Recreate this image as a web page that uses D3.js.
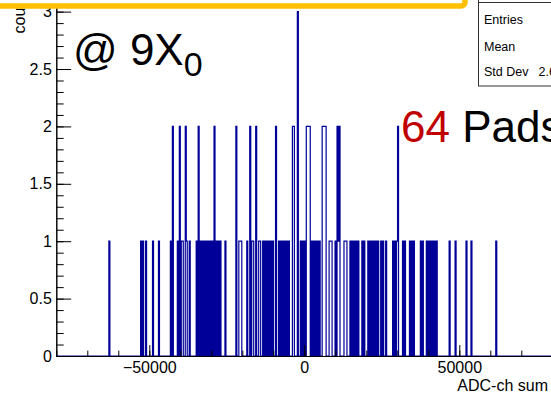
<!DOCTYPE html>
<html>
<head>
<meta charset="utf-8">
<script src="https://cdn.jsdelivr.net/npm/d3@7"></script>
<style>
  html, body { margin: 0; padding: 0; background: #fff; overflow: hidden; }
  text { font-family: "Liberation Sans", Arial, Helvetica, sans-serif; }
</style>
</head>
<body>
<svg id="chart" width="551" height="394"></svg>
<script>
// Summed ADC value of every recorded event (a value repeated n times = n events in that bin)
const adcSum = [
  -63000,
  -52680, -52030, -51060, -48810, -47030,
  -43000, -42290, -42290, -40900, -40260, -40260, -39610, -39130, -38320, -38320, -37770, -36870,
  -34770, -34190, -34190, -33550, -32900, -32260, -31610, -30970, -30320, -29680, -29030, -29030,
  -28390, -27740, -27100,
  -25580, -22030, -22030, -20970, -20650, -20320,
  -18320, -17520, -17520, -16870, -16550, -15580, -15580, -14450, -14130,
  -13160, -12520, -11870, -11230, -10580, -10000, -9230, -9230,
  -8160, -7520, -6870, -6230, -5580, -4940, -3580, -3580, -3260, -3260, -2100, -2100, -2100,
  -1060, -420, 230, 940, 940, 1260, 1260, 1580, 1580, 1900, 1900,
  2480, 3130, 3770, 4420, 5060, 5770, 5770, 6100, 6100, 6420, 6420, 6740, 6740,
  8290, 8610, 8940, 10060, 10610, 10610, 10940, 11260, 11260,
  12810, 13130, 13450, 14900, 15550, 16190, 16840, 17480, 18610, 19260,
  20710, 21350, 22000, 22650, 23290, 23940, 24900, 25550, 26520,
  28610, 29260, 29900, 30390, 30390, 31840, 32480, 33940, 34580, 35230,
  37480, 38130, 39580, 40230, 40870, 41520, 42160, 42650,
  47000, 48770, 52160, 54000, 61840
];

// Histogram binning and axis ticks
const xRange = [-80000, 80000];
const binWidth = 320;
const xMajorTicks = [-50000, 0, 50000];
const xMinorTicks = d3.range(-80000, 80001, 10000);
const yMajorTicks = [0, 0.5, 1, 1.5, 2, 2.5, 3];
const yMinorTicks = d3.range(0, 3.15, 0.1);
const yMax = 3.15;

const xTitle = "ADC-ch sum";
const yTitle = "counts";

const svg = d3.select("#chart");

const frame = { left: 56.3, right: 552.3, top: -5.6, bottom: 356 };
const x = d3.scaleLinear().domain(xRange).range([frame.left, frame.right]);
const y = d3.scaleLinear().domain([0, yMax]).range([frame.bottom, frame.top]);

// ---- histogram ----
const bins = d3.bin()
  .domain(xRange)
  .thresholds(d3.range(xRange[0] + binWidth, xRange[1], binWidth))(adcSum);

const pts = [[bins[0].x0, 0]];
bins.forEach(b => { pts.push([b.x0, b.length]); pts.push([b.x1, b.length]); });
pts.push([bins[bins.length - 1].x1, 0]);

svg.append("clipPath").attr("id", "frameClip")
  .append("rect")
  .attr("x", frame.left).attr("y", frame.top - 20)
  .attr("width", frame.right - frame.left).attr("height", frame.bottom - frame.top + 21);

svg.append("path")
  .attr("clip-path", "url(#frameClip)")
  .attr("d", d3.line().x(d => x(d[0])).y(d => y(d[1]))(pts))
  .attr("fill", "none")
  .attr("stroke", "#000099")
  .attr("stroke-width", 1.2);

// ---- axes (ROOT style: ticks inside the frame) ----
const font = 16;
const yAxisMinor = d3.axisLeft(y).tickValues(yMinorTicks).tickSizeInner(-7.4).tickSizeOuter(0).tickFormat("");
const yAxisMajor = d3.axisLeft(y).tickValues(yMajorTicks).tickSizeInner(-14.9).tickSizeOuter(0)
  .tickPadding(4.5).tickFormat(d => String(d));
const xAxisMinor = d3.axisBottom(x).tickValues(xMinorTicks).tickSizeInner(-5.4).tickSizeOuter(0).tickFormat("");
const xAxisMajor = d3.axisBottom(x).tickValues(xMajorTicks).tickSizeInner(-10.9).tickSizeOuter(0)
  .tickPadding(6).tickFormat(d3.format("d"));

function styleAxis(g) {
  g.select(".domain").attr("stroke", "#000").attr("stroke-width", 1);
  g.selectAll(".tick line").attr("stroke", "#000").attr("stroke-width", 1);
  g.selectAll(".tick text").attr("fill", "#000").style("font-size", font + "px")
    .style("font-family", '"Liberation Sans", Arial, Helvetica, sans-serif');
}

svg.append("g").attr("transform", `translate(${frame.left},0)`).call(yAxisMinor).call(styleAxis);
svg.append("g").attr("transform", `translate(${frame.left},0)`).call(yAxisMajor).call(styleAxis);
svg.append("g").attr("transform", `translate(0,${frame.bottom})`).call(xAxisMinor).call(styleAxis);
svg.append("g").attr("transform", `translate(0,${frame.bottom})`).call(xAxisMajor).call(styleAxis);

// axis titles
svg.append("text")
  .attr("x", 457.3).attr("y", 391)
  .style("font-size", font + "px")
  .text(xTitle);

svg.append("text")
  .attr("transform", "translate(25,33.5) rotate(-90)")
  .attr("text-anchor", "start")
  .style("font-size", font + "px")
  .text(yTitle);

// ---- statistics box ----
const n = adcSum.length;
const mean = d3.mean(adcSum);
const std = Math.sqrt(d3.mean(adcSum, v => (v - mean) * (v - mean)));
function rootFmt(v) {
  const a = Math.abs(v);
  if (a >= 1e4 || (a < 1e-4 && a > 0)) {
    const [m, e] = v.toExponential(3).split("e");
    const sign = e[0] === "-" ? "-" : "+";
    const digits = e.replace(/[+-]/, "").padStart(2, "0");
    return m + "e" + sign + digits;
  }
  return d3.format(".4~g")(v);
}
const statRows = [
  ["Entries", String(n), 23.5],
  ["Mean", rootFmt(mean), 51],
  ["Std Dev", rootFmt(std), 76.3]
];
const stat = svg.append("g");
stat.append("rect")
  .attr("x", 478.5).attr("y", -40).attr("width", 200).attr("height", 126)
  .attr("fill", "#fff").attr("stroke", "#333").attr("stroke-width", 1);
stat.append("line")
  .attr("x1", 478.5).attr("x2", 680).attr("y1", 2.5).attr("y2", 2.5)
  .attr("stroke", "#333").attr("stroke-width", 1);
statRows.forEach(r => {
  stat.append("text").attr("x", 484).attr("y", r[2]).style("font-size", "12.5px").text(r[0]);
  stat.append("text").attr("x", 598).attr("y", r[2]).attr("text-anchor", "end")
    .style("font-size", "12.5px").text(r[1]);
});

// ---- highlighted caption box at the top ----
svg.append("rect")
  .attr("x", -20).attr("y", -60).attr("width", 485).attr("height", 66)
  .attr("rx", 4).attr("ry", 4)
  .attr("fill", "#fff").attr("stroke", "#FFC000").attr("stroke-width", 5.5);

// ---- annotations ----
const depth = svg.append("text").attr("x", 73).attr("y", 65).style("font-size", "44px").attr("fill", "#000");
depth.append("tspan").text("@ 9X");
depth.append("tspan").attr("dy", 11).style("font-size", "34px").text("0");

const pads = svg.append("text").attr("x", 401).attr("y", 141.7).style("font-size", "44px");
pads.append("tspan").attr("fill", "#C00000").text("64");
pads.append("tspan").attr("fill", "#000").text(" Pads");
</script>
</body>
</html>
